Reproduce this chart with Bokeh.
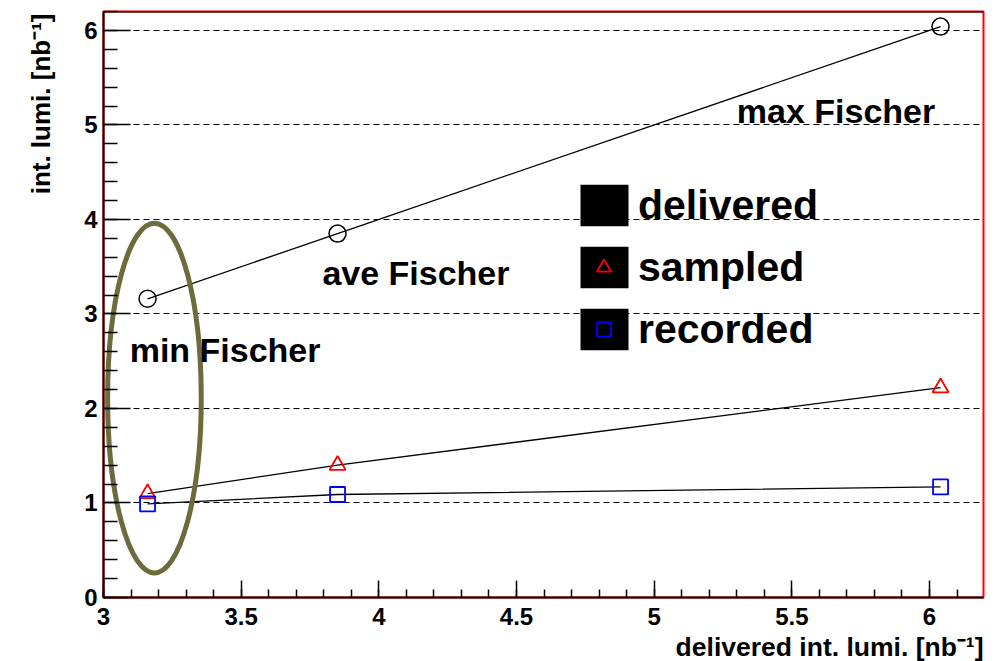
from bokeh.plotting import figure
from bokeh.models import (Range1d, Legend, LegendItem, Title, Span, ColumnDataSource,
                          FixedTicker)
from bokeh.embed import file_html
from bokeh.resources import INLINE
from bokeh.core.properties import value

# ---- data ----
delivered_x = [3.16, 3.85, 6.04]
delivered_y = [3.16, 3.85, 6.04]
sampled_y = [1.10, 1.40, 2.22]
recorded_y = [0.99, 1.09, 1.17]

x_ticks = [3, 3.5, 4, 4.5, 5, 5.5, 6]
x_tick_labels = ["3", "3.5", "4", "4.5", "5", "5.5", "6"]
y_ticks = [0, 1, 2, 3, 4, 5, 6]
y_tick_labels = ["0", "1", "2", "3", "4", "5", "6"]

series_labels = ["delivered", "sampled", "recorded"]
x_title = "delivered int. lumi. [nb\u207b\u00b9]"
y_title = "int. lumi. [nb\u207b\u00b9]"

note_texts = ["max Fischer", "ave Fischer", "min Fischer"]
note_x = [5.30, 3.795, 3.095]
note_y = [4.95, 3.23, 2.42]

ellipse_x = [3.185]
ellipse_y = [2.11]
ellipse_w = 0.34
ellipse_h = 3.70

FONT = "Liberation Sans"

p = figure(frame_width=880, frame_height=586,
           x_range=Range1d(3.0, 6.196), y_range=Range1d(0, 6.2),
           output_backend="svg", toolbar_location=None,
           min_border_left=103, min_border_top=11, min_border_right=10, min_border_bottom=0)

p.background_fill_color = "white"
p.border_fill_color = "white"
p.outline_line_color = "red"
p.outline_line_width = 2

# ticks
p.xaxis.ticker = FixedTicker(ticks=x_ticks,
                             minor_ticks=[round(3 + 0.1 * i, 2) for i in range(33)])
p.yaxis.ticker = FixedTicker(ticks=y_ticks,
                             minor_ticks=[round(0.2 * i, 2) for i in range(32)])
p.xaxis.major_label_overrides = {t: l for t, l in zip(x_ticks, x_tick_labels)}
p.yaxis.major_label_overrides = {t: l for t, l in zip(y_ticks, y_tick_labels)}

for ax in (p.xaxis, p.yaxis):
    ax.major_tick_out = 0
    ax.minor_tick_out = 0
    ax.axis_line_color = "black"
    ax.axis_line_width = 2
    ax.major_tick_line_color = "black"
    ax.minor_tick_line_color = "black"
    ax.major_tick_line_width = 1.5
    ax.minor_tick_line_width = 1.5
    ax.major_label_text_font = FONT
    ax.major_label_text_font_style = "bold"
    ax.major_label_text_font_size = "24px"
    ax.major_label_text_color = "black"
p.xaxis.major_tick_in = 17
p.xaxis.minor_tick_in = 8
p.yaxis.major_tick_in = 27
p.yaxis.minor_tick_in = 14
p.xaxis.major_label_standoff = 10
p.yaxis.major_label_standoff = 6

p.xgrid.visible = False
p.ygrid.grid_line_color = "black"
p.ygrid.grid_line_dash = "6 4"
p.ygrid.grid_line_width = 1

# top frame line black
p.add_layout(Span(location=6.2, dimension="width", line_color="black", line_width=2))

# axis titles
xt = Title(text=x_title, align="right", offset=0,
           text_font=FONT, text_font_style="bold", text_font_size="26.5px",
           text_color="black", standoff=4)
p.add_layout(xt, "below")
yt = Title(text=y_title, align="right", vertical_align="top", offset=2,
           text_font=FONT, text_font_style="bold", text_font_size="26px",
           text_color="black", standoff=48)
p.add_layout(yt, "left")

# lines
p.line(delivered_x, delivered_y, line_color="black", line_width=1.3)
p.line(delivered_x, sampled_y, line_color="black", line_width=1.3)
p.line(delivered_x, recorded_y, line_color="black", line_width=1.3)

r_del = p.scatter(delivered_x, delivered_y, marker="circle", size=17,
                  fill_alpha=0, line_color="black", line_width=1.5)
r_samp = p.scatter(delivered_x, sampled_y, marker="triangle", size=16,
                   fill_alpha=0, line_color="red", line_width=1.8)
r_rec = p.scatter(delivered_x, recorded_y, marker="square", size=15,
                  fill_alpha=0, line_color="blue", line_width=1.8)

# ellipse
p.ellipse(x=ellipse_x, y=ellipse_y, width=ellipse_w, height=ellipse_h,
          fill_alpha=0, line_color="#6b6b3b", line_width=5)

# notes
src = ColumnDataSource(dict(x=note_x, y=note_y, t=note_texts))
p.text(x="x", y="y", text="t", source=src, text_font=value(FONT),
       text_font_style="bold", text_font_size="34px", text_baseline="bottom",
       text_color="black")

# legend swatch: zero-area black quad (invisible in the plot, fills the legend box)
box = p.quad(left=delivered_x[:1], right=delivered_x[:1],
             top=delivered_y[:1], bottom=delivered_y[:1],
             fill_color="black", line_alpha=0)

common = dict(glyph_height=52, label_text_font=FONT, label_text_font_style="bold",
              spacing=10, padding=0, margin=0,
              background_fill_alpha=0, border_line_alpha=0)
# boxes + labels
legend_a = Legend(items=[LegendItem(label=l, renderers=[box]) for l in series_labels],
                  location=(471, 242), glyph_width=60, label_standoff=4,
                  label_text_font_size="41px", label_text_color="black", **common)
# markers centred on the boxes
legend_b = Legend(items=[LegendItem(label="", renderers=[r])
                         for r in [r_del, r_samp, r_rec]],
                  location=(483, 242), glyph_width=35, label_standoff=0,
                  label_text_font_size="10px", label_text_alpha=0, **common)
p.add_layout(legend_a)
p.add_layout(legend_b)

open("out.html", "w").write(file_html(p, INLINE))
